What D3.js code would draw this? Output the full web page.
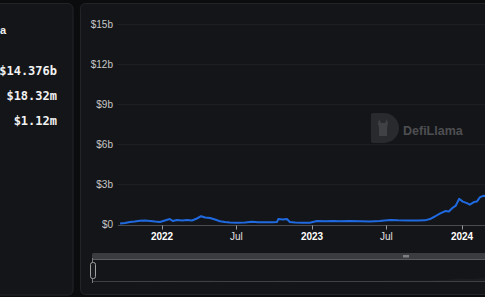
<!DOCTYPE html>
<html>
  <head>
    <meta charset="UTF-8">
    <title>TVL chart</title>
    <script src="https://cdnjs.cloudflare.com/ajax/libs/d3/7.8.5/d3.min.js"></script>
    <style type="text/css">
      body {
        margin: 0px;
        background: #0b0c0e;
        overflow: hidden;
      }
      .ylabel { font: 10px "Liberation Sans", Arial, sans-serif; fill: #c8c8c8; }
      .xlabel { font: 10px "Liberation Sans", Arial, sans-serif; fill: #e0e0e0; }
      .xlabel.year { font-weight: bold; fill: #ffffff; }
      .stat { font: bold 12px "DejaVu Sans Mono", monospace; fill: #f2f2f2; }
    </style>
  </head>
  <body>
    <div id="chart"></div>
    <script>
      // summary numbers on the left card
      const statLabels = ["$14.376b", "$18.32m", "$1.12m"];

      // axis ticks
      const yTicks = [0, 3, 6, 9, 12, 15];
      const xTickDates = ["2022-01-01", "2022-07-01", "2023-01-01", "2023-07-01", "2024-01-01"];
      const xTickLabels = ["2022", "Jul", "2023", "Jul", "2024"];

      // TVL series, billions of USD
      const dates = [
        "2021-09-21","2021-10-03","2021-10-15","2021-10-27","2021-11-08","2021-11-21","2021-12-03","2021-12-15",
        "2021-12-27","2022-01-08","2022-01-20","2022-01-28","2022-02-06","2022-02-19","2022-03-03","2022-03-15",
        "2022-03-27","2022-04-06","2022-04-16","2022-04-28","2022-05-10","2022-05-22","2022-06-03","2022-06-15",
        "2022-07-02","2022-07-22","2022-08-08","2022-08-23","2022-09-09","2022-09-26","2022-10-08","2022-10-11",
        "2022-10-22","2022-11-01","2022-11-08","2022-11-21","2022-12-08","2022-12-27","2023-01-13","2023-02-02",
        "2023-02-21","2023-03-10","2023-04-03","2023-04-28","2023-05-22","2023-06-15","2023-07-10","2023-07-29",
        "2023-08-23","2023-09-16","2023-10-03","2023-10-15","2023-10-27","2023-11-08","2023-11-21","2023-11-30",
        "2023-12-10","2023-12-17","2023-12-25","2024-01-03","2024-01-13","2024-01-20","2024-01-30","2024-02-06",
        "2024-02-14","2024-02-23","2024-03-01"
      ];
      const tvl = [
        0.07,0.11,0.19,0.22,0.28,0.30,0.26,0.22,
        0.19,0.30,0.41,0.26,0.34,0.30,0.34,0.30,
        0.45,0.62,0.52,0.49,0.37,0.24,0.19,0.15,
        0.13,0.15,0.20,0.17,0.16,0.17,0.19,0.41,
        0.37,0.41,0.19,0.15,0.13,0.13,0.26,0.25,
        0.26,0.24,0.26,0.24,0.22,0.26,0.34,0.31,
        0.30,0.30,0.31,0.41,0.60,0.82,1.01,0.97,
        1.27,1.42,1.92,1.72,1.60,1.49,1.68,1.72,
        2.05,2.16,2.12
      ];

      const W = 485, H = 297;
      const parse = d3.utcParse("%Y-%m-%d");
      const data = dates.map((d, i) => ({date: parse(d), value: tvl[i]}));

      const svg = d3.select("#chart").append("svg")
        .attr("width", W).attr("height", H);

      // cards
      svg.append("rect").attr("x", -6).attr("y", 3.5).attr("width", 79).attr("height", 291.5)
        .attr("rx", 5).attr("fill", "#141518").attr("stroke", "#232428");
      svg.append("rect").attr("x", 80.5).attr("y", 3.5).attr("width", 420).attr("height", 291)
        .attr("rx", 5).attr("fill", "#141518").attr("stroke", "#232428");

      // left card text
      svg.append("text").attr("x", 0).attr("y", 34)
        .style("font", "bold 11px 'Liberation Sans', Arial, sans-serif").style("fill", "#f2f2f2")
        .text("a");
      svg.selectAll(".stat").data(statLabels).enter().append("text")
        .attr("class", "stat")
        .attr("x", 57).attr("y", (d, i) => 74.5 + i * 25)
        .attr("text-anchor", "end")
        .text(d => d);

      // scales
      const x = d3.scaleUtc()
        .domain([parse("2022-01-01"), parse("2024-01-01")])
        .range([162, 462]);
      const y = d3.scaleLinear()
        .domain([0, 15])
        .range([224.5, 24.5]);

      // watermark
      const wm = svg.append("g").attr("opacity", 0.9);
      wm.append("path")
        .attr("d", "M371,115 a2,2 0 0 1 2,-2 H384 A15,15 0 0 1 384,143 H373 a2,2 0 0 1 -2,-2 Z")
        .attr("fill", "#2c2d31");
      wm.append("path")
        .attr("d", "M379,119 l2,4 h4 l2,-4 l1,5 l-1,3 v9 h-8 v-9 l-1,-3 Z")
        .attr("fill", "#45464a");
      wm.append("text").attr("x", 403).attr("y", 134.5)
        .style("font", "bold 12.5px 'Liberation Sans', Arial, sans-serif")
        .style("fill", "#545558")
        .text("DefiLlama");

      // grid + y labels
      svg.selectAll(".grid").data(yTicks.filter(d => d > 0)).enter().append("line")
        .attr("x1", 118).attr("x2", W)
        .attr("y1", d => y(d)).attr("y2", d => y(d))
        .attr("stroke", "#1d1e22").attr("stroke-width", 1);
      svg.selectAll(".ylabel").data(yTicks).enter().append("text")
        .attr("class", "ylabel")
        .attr("x", 113).attr("y", d => y(d) + 3.5)
        .attr("text-anchor", "end")
        .text(d => d === 0 ? "$0" : "$" + d + "b");

      // x axis
      const xAxis = svg.append("g").attr("transform", "translate(0,225.5)");
      xAxis.append("line").attr("x1", 118).attr("x2", W).attr("stroke", "#4a4b4f");
      const tickDates = xTickDates.map(parse);
      xAxis.selectAll(".tick").data(tickDates).enter().append("line")
        .attr("x1", d => Math.round(x(d)) + 0.5).attr("x2", d => Math.round(x(d)) + 0.5)
        .attr("y1", 0).attr("y2", 4)
        .attr("stroke", "#9a9a9a");
      xAxis.selectAll(".xlabel").data(tickDates).enter().append("text")
        .attr("class", (d, i) => "xlabel" + (xTickLabels[i] === "Jul" ? "" : " year"))
        .attr("x", d => x(d)).attr("y", 14)
        .attr("text-anchor", "middle")
        .text((d, i) => xTickLabels[i]);

      // line
      svg.append("clipPath").attr("id", "plot")
        .append("rect").attr("x", 118).attr("y", 20).attr("width", W - 118).attr("height", 210);
      svg.append("path").datum(data)
        .attr("clip-path", "url(#plot)")
        .attr("fill", "none")
        .attr("stroke", "#1f6ae0")
        .attr("stroke-width", 2)
        .attr("stroke-linejoin", "round")
        .attr("d", d3.line().x(d => x(d.date)).y(d => y(d.value)));

      // data zoom slider
      const sy = d3.scaleLinear().domain([0, 15]).range([281, 261]);
      svg.append("path").datum(data)
        .attr("fill", "#1b1c20")
        .attr("d", d3.area().x(d => x(d.date)).y0(281).y1(d => sy(d.value)));
      svg.append("rect").attr("x", 92).attr("y", 253).attr("width", 410).attr("height", 6)
        .attr("rx", 1.5).attr("fill", "#3b3c40");
      svg.append("line").attr("x1", 92).attr("x2", W).attr("y1", 259.5).attr("y2", 259.5)
        .attr("stroke", "#5a5b5f");
      svg.append("line").attr("x1", 92).attr("x2", W).attr("y1", 281.5).attr("y2", 281.5)
        .attr("stroke", "#3f4044");
      svg.append("line").attr("x1", 92.5).attr("x2", 92.5).attr("y1", 258).attr("y2", 283)
        .attr("stroke", "#7a7b7f");
      svg.append("rect").attr("x", 90.5).attr("y", 262.5).attr("width", 5).attr("height", 16)
        .attr("rx", 2).attr("fill", "#1a1b1e").attr("stroke", "#a0a0a0");
      [0, 2, 4].forEach(dx => {
        svg.append("rect").attr("x", 403.5 + dx).attr("y", 255).attr("width", 1).attr("height", 2.5)
          .attr("fill", "#c0c0c0");
      });
    </script>
  </body>
</html>
